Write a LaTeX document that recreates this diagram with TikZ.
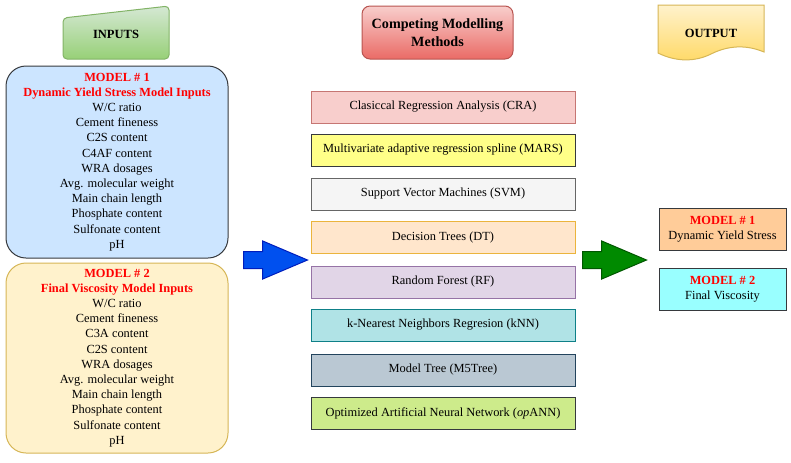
\documentclass[tikz,border=0pt]{standalone}
\usepackage{fontspec}
\setmainfont{Liberation Serif}
\usetikzlibrary{shapes.arrows}
\definecolor{inblue}{HTML}{CCE5FF}
\definecolor{inyellow}{HTML}{FFF2CC}
\definecolor{inyellowdraw}{HTML}{D6B656}
\definecolor{darkline}{HTML}{36393D}
\definecolor{greentop}{HTML}{D5E8D4}
\definecolor{greenbot}{HTML}{97D077}
\definecolor{greendraw}{HTML}{82B366}
\definecolor{redtop}{HTML}{F8CECC}
\definecolor{redbot}{HTML}{EA6B66}
\definecolor{reddraw}{HTML}{B85450}
\definecolor{outbot}{HTML}{FFD966}
\definecolor{arrblue}{HTML}{0050EF}
\definecolor{arrbluedraw}{HTML}{001DBC}
\definecolor{arrgreen}{HTML}{008A00}
\definecolor{arrgreendraw}{HTML}{005700}
\newcommand{\redhd}[1]{\textcolor{red}{\bfseries #1}}

\begin{document}
\begin{tikzpicture}[
  x=0.75pt, y=-0.75pt,
  font=\fontsize{9.3}{11.4}\selectfont,
  mbox/.style={draw, minimum width=198pt, minimum height=24pt,
    inner sep=0pt, line width=0.75pt},
  inbox/.style={draw, rounded corners=15pt, minimum width=166.5pt,
    align=center, inner sep=0pt, line width=0.75pt},
  obox/.style={draw=darkline, minimum width=95.25pt, minimum height=31.5pt,
    align=center, inner sep=0pt, line width=0.75pt},
  blk/.style={single arrow, inner sep=0pt, text height=6pt, text depth=6pt,
    minimum height=48pt, single arrow head extend=7.9pt,
    single arrow tip angle=46, anchor=tail, line width=0.75pt},
  hd/.style={font=\fontsize{9.4}{11}\selectfont\bfseries}
]
\useasboundingbox (0,0) rectangle (791,462);

% headers
\path[draw=greendraw, top color=greentop, bottom color=greenbot,
  rounded corners=3pt, line width=0.75pt]
  (63,18) -- (169,6) -- (169,59) -- (63,59) -- cycle;
\node[hd] (inputs) at (116,34) {INPUTS};

\node[draw=reddraw, top color=redtop, bottom color=redbot, rounded corners=6pt,
  minimum width=113.25pt, minimum height=39.75pt, align=center,
  line width=0.75pt, font=\fontsize{10.6}{13.5}\selectfont\bfseries]
  (methods) at (437.5,32.5) {Competing Modelling\\Methods};

\path[draw=inyellowdraw, top color=inyellow, bottom color=outbot,
  line width=0.75pt]
  (658,53) -- (658,5) -- (764,5) -- (764,52)
  .. controls (745,44) and (727,46) .. (711,54)
  .. controls (695,62) and (676,62) .. (658,53) -- cycle;
\node[hd] (output) at (711,33) {OUTPUT};

% inputs
\node[inbox, fill=inblue, draw=darkline, minimum height=144pt] (model1) at (117,162)
  {\redhd{MODEL \# 1}\\ \redhd{Dynamic Yield Stress Model Inputs}\\
   W/C ratio\\ Cement fineness\\ C2S content\\ C4AF content\\ WRA dosages\\
   Avg. molecular weight\\ Main chain length\\ Phosphate content\\
   Sulfonate content\\ pH};
\node[inbox, fill=inyellow, draw=inyellowdraw, minimum height=142.5pt] (model2) at (117,358)
  {\redhd{MODEL \# 2}\\ \redhd{Final Viscosity Model Inputs}\\
   W/C ratio\\ Cement fineness\\ C3A content\\ C2S content\\ WRA dosages\\
   Avg. molecular weight\\ Main chain length\\ Phosphate content\\
   Sulfonate content\\ pH};

% methods
\node[mbox, fill=redtop, draw=reddraw!80] (cra) at (443,107) {Clasiccal Regression Analysis (CRA)};
\node[mbox, fill={rgb,255:red,255;green,255;blue,136}, draw=darkline] (mars) at (443,150) {Multivariate adaptive regression spline (MARS)};
\node[mbox, fill={rgb,255:red,245;green,245;blue,245}, draw={rgb,255:red,102;green,102;blue,102}] (svm) at (443,194) {Support Vector Machines (SVM)};
\node[mbox, fill={rgb,255:red,255;green,230;blue,204}, draw={rgb,255:red,235;green,180;blue,60}] (dt) at (443,237.5) {Decision Trees (DT)};
\node[mbox, fill={rgb,255:red,225;green,213;blue,231}, draw={rgb,255:red,150;green,115;blue,166}] (rf) at (443,282) {Random Forest (RF)};
\node[mbox, fill={rgb,255:red,176;green,227;blue,230}, draw={rgb,255:red,14;green,128;blue,136}] (knn) at (443,325) {k-Nearest Neighbors Regresion (kNN)};
\node[mbox, fill={rgb,255:red,186;green,200;blue,211}, draw={rgb,255:red,35;green,68;blue,93}] (m5) at (443,370) {Model Tree (M5Tree)};
\node[mbox, fill={rgb,255:red,205;green,235;blue,139}, draw=darkline] (ann) at (443,413) {Optimized Artificial Neural Network (\textit{op}ANN)};

% block arrows
\node[blk, fill=arrblue, draw=arrbluedraw] (toMethods) at (243,260) {};
\node[blk, fill=arrgreen, draw=arrgreendraw] (toOutput) at (582,260) {};

% outputs
\node[obox, fill={rgb,255:red,255;green,204;blue,153}] (out1) at (722.5,229)
  {\redhd{MODEL \# 1}\\ Dynamic Yield Stress};
\node[obox, fill={rgb,255:red,153;green,255;blue,255}] (out2) at (722.5,289)
  {\redhd{MODEL \# 2}\\ Final Viscosity};

\end{tikzpicture}
\end{document}
